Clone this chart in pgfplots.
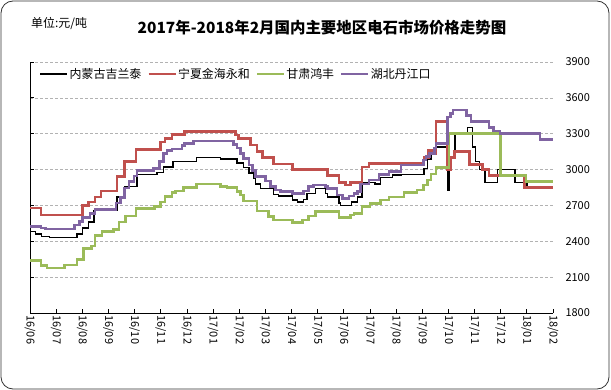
\documentclass[border=0pt]{standalone}
\usepackage{fontspec}
\setmainfont{Noto Sans CJK SC}
\usepackage{pgfplots}
\pgfplotsset{compat=1.18}
\definecolor{cred}{RGB}{192,80,77}
\definecolor{cgreen}{RGB}{155,187,89}
\definecolor{cpurple}{RGB}{128,100,162}
\begin{document}
\begin{tikzpicture}
\useasboundingbox (0,0) rectangle (611bp,390bp);
\draw[rounded corners=12bp, line width=0.8bp, black!80] (1bp,1bp) rectangle (609bp,389bp);
\node[anchor=west, font=\fontsize{12}{14}\selectfont, inner sep=0pt] at (31bp,366bp) {单位:元/吨};
\node[font=\fontsize{15.5}{18}\selectfont\bfseries, inner sep=0pt] at (322bp,362bp) {2017年-2018年2月国内主要地区电石市场价格走势图};
\begin{axis}[
  at={(30bp,77bp)}, anchor=south west,
  scale only axis, width=523bp, height=251bp,
  xmin=0, xmax=20, ymin=1800, ymax=3900,
  axis x line*=bottom, axis y line*=left,
  axis line style={-, line width=0.8bp},
  xtick={0,...,20},
  xticklabels={16/06,16/07,16/08,16/09,16/10,16/11,16/12,17/01,17/02,17/03,17/04,17/05,17/06,17/07,17/08,17/09,17/10,17/11,17/12,18/01,18/02},
  ytick={1800,2100,...,3900},
  xtick pos=bottom, ytick pos=left,
  tick align=inside, major tick length=4bp,
  tick style={black, line width=0.8bp},
  /pgf/number format/assume math mode=true,
  /pgf/number format/1000 sep={},
  ticklabel style={font=\fontsize{11}{13}\selectfont},
  xticklabel style={rotate=-90, anchor=west, xshift=-1bp},
  yticklabel style={anchor=west, xshift=532bp},
  ymajorgrids,
  major grid style={dashed, black!30, dash pattern=on 3bp off 2bp, line width=0.6bp},
  legend columns=4,
  legend style={at={(rel axis cs:0.018,0.952)}, anchor=west, draw=none, fill=none,
    font=\fontsize{12}{14}\selectfont, inner sep=0pt,
    /tikz/every even column/.append style={column sep=5bp},
    nodes={inner xsep=1.5bp}},
  legend image code/.code={\draw[#1, line width=1.6bp] (0bp,0bp) -- (27bp,0bp);},
]
\addplot[black, line width=1.4bp, const plot mark left] table {
0 2480
0.2 2460
0.45 2440
0.75 2430
1.79 2460
2.0 2510
2.24 2560
2.44 2660
3.32 2770
3.62 2860
4.09 2960
4.86 2975
5.1 3020
5.47 3070
6.36 3100
7.28 3090
7.92 3055
8.17 3015
8.37 2970
8.56 2930
8.62 2880
8.81 2840
9.32 2790
9.5 2780
10.03 2745
10.22 2730
10.47 2750
10.6 2800
10.92 2840
11.3 2800
11.37 2770
11.81 2720
11.88 2700
12.3 2730
12.52 2770
12.7 2890
13.2 2880
13.41 2935
13.86 2955
14.18 2960
15.07 3010
15.2 3090
15.33 3150
15.52 3190
15.98 2830
16.04 3100
16.25 3300
16.72 3350
16.92 3190
17.04 3070
17.18 3000
17.4 2890
17.88 3000
18.55 2890
19.0 2850
20 2850
};
\addlegendentry{内蒙古吉兰泰}
\addplot[cred, line width=2.6bp, const plot mark left] table {
0 2680
0.42 2620
2.0 2700
2.24 2730
2.49 2770
2.72 2820
3.32 2940
3.62 3070
4.05 3170
4.98 3230
5.17 3260
5.43 3295
5.9 3320
7.85 3290
7.98 3260
8.43 3205
8.68 3150
8.88 3100
9.32 3045
10.03 3000
11.37 2950
11.81 2890
12.07 2870
12.26 2890
12.7 3020
12.96 3050
15.07 3100
15.25 3160
15.38 3130
15.52 3400
15.96 3000
16.09 3100
16.24 3150
16.8 3040
17.3 3000
17.56 2950
18.9 2850
20 2850
};
\addlegendentry{宁夏金海永和}
\addplot[cgreen, line width=2.6bp, const plot mark left] table {
0 2240
0.42 2195
0.65 2178
1.32 2200
1.79 2250
2.04 2340
2.36 2360
2.49 2448
2.75 2480
3.2 2500
3.4 2560
3.66 2611
4.05 2676
4.75 2690
4.98 2730
5.17 2773
5.43 2810
5.56 2821
5.87 2849
6.36 2880
7.28 2860
7.53 2849
7.92 2815
8.05 2787
8.17 2737
8.68 2653
9.13 2605
9.32 2577
10.03 2558
10.41 2578
10.66 2611
10.92 2647
11.81 2600
12.26 2620
12.39 2634
12.7 2690
13.0 2718
13.41 2745
13.73 2770
14.3 2810
14.8 2829
15.04 2870
15.2 2913
15.33 2963
15.52 3018
16.02 3300
18.0 2950
18.97 2900
20 2900
};
\addlegendentry{甘肃鸿丰}
\addplot[cpurple, line width=2.6bp, const plot mark left] table {
0 2522
0.42 2510
0.6 2503
1.7 2535
1.89 2565
2.0 2600
2.3 2630
2.49 2665
3.29 2720
3.45 2765
3.62 2845
3.79 2900
3.98 2945
4.09 2990
4.73 3010
4.95 3070
5.1 3136
5.24 3160
5.43 3172
5.81 3200
5.9 3220
6.26 3238
7.79 3210
7.92 3180
8.05 3136
8.17 3094
8.37 3038
8.5 2990
8.62 2940
9.0 2905
9.2 2860
9.39 2829
9.58 2815
10.03 2800
10.47 2821
10.66 2857
10.85 2870
11.3 2860
11.37 2843
11.74 2787
11.94 2760
12.2 2780
12.39 2800
12.52 2815
12.64 2880
12.96 2913
13.35 2960
13.73 2982
14.18 3038
15.05 3080
15.14 3108
15.27 3136
15.46 3180
15.52 3220
15.96 3440
16.09 3470
16.18 3500
16.7 3450
16.86 3400
17.56 3350
17.73 3323
17.98 3300
19.5 3250
20 3250
};
\addlegendentry{湖北丹江口}
\end{axis}
\end{tikzpicture}
\end{document}
